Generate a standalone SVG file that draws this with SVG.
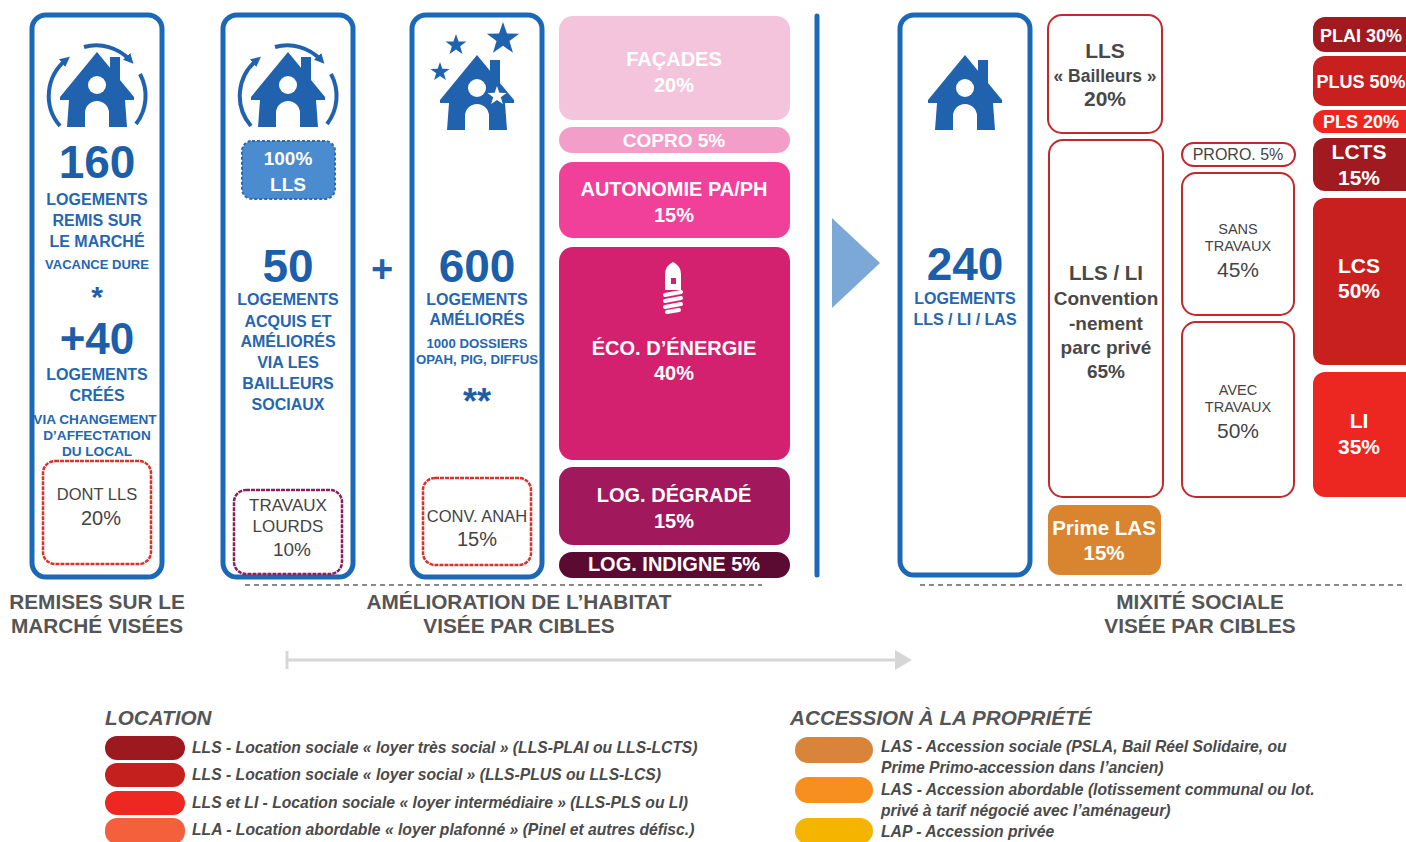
<svg xmlns="http://www.w3.org/2000/svg" width="1406" height="842" viewBox="0 0 1406 842">
<style>
text{font-family:"Liberation Sans",Arial,sans-serif;text-anchor:middle}
.bx{fill:#fff;stroke:#1b69b6;stroke-width:5}
.big{font-weight:bold;font-size:46px;fill:#1d5ea9}
.lb{font-weight:bold;font-size:16px;fill:#2466b0}
.sm{font-weight:bold;font-size:13.6px;fill:#2466b0}
.gr{font-size:16.5px;fill:#444}
.pc{font-size:20px;fill:#444}
.wt{font-weight:bold;font-size:20px;fill:#fff}
.rt{font-weight:bold;font-size:21px;fill:#fff}
.ro{fill:#fff;stroke:#c3282c;stroke-width:2}
.dk{font-weight:bold;fill:#484848}
.cap{font-weight:bold;font-size:20.8px;fill:#555}
.lg{font-weight:bold;font-style:italic;font-size:15.7px;fill:#4a4a4a;text-anchor:start}
.lt{font-weight:bold;font-style:italic;font-size:20.7px;fill:#555;text-anchor:start}
.ic{fill:#2062ad}
</style>
<defs>
<marker id="ah" viewBox="0 0 10 10" refX="5" refY="5" markerWidth="10" markerHeight="10" markerUnits="userSpaceOnUse" orient="auto">
<path d="M0,0 L10,5 L0,10 Z" fill="#2062ad"/>
</marker>
<g id="house">
<path d="M0,0 L37,45 L37,48 L28,48 L30,75 L12,75 L12,61 A12,12 0 0 0 -12,61 L-12,75 L-30,75 L-28,48 L-37,48 L-37,45 Z"/>
<rect x="13" y="5" width="10" height="26"/>
<circle cx="0" cy="33" r="9" fill="#fff"/>
</g>
<g id="houseArrows">
<use href="#house" transform="translate(97,52)"/>
<g fill="none" stroke="#2062ad" stroke-width="4">
<path d="M60,126 A46,46 0 0 1 66,60" marker-end="url(#ah)"/>
<path d="M84,47 A46,46 0 0 1 130,60" marker-end="url(#ah)"/>
<path d="M140,74 A46,46 0 0 1 136,124"/>
</g>
</g>
<polygon id="star" points="0,-1 0.235,-0.324 0.951,-0.309 0.38,0.124 0.588,0.809 0,0.4 -0.588,0.809 -0.38,0.124 -0.951,-0.309 -0.235,-0.324"/>
</defs>

<rect width="1406" height="842" fill="#fff"/>

<g id="remises">
<rect class="bx" x="32" y="15" width="130" height="562" rx="14"/>
<g class="ic"><use href="#houseArrows"/></g>
<text class="big" x="97" y="178">160</text>
<text class="lb" x="97" y="205">LOGEMENTS</text>
<text class="lb" x="97" y="226">REMIS SUR</text>
<text class="lb" x="97" y="247">LE MARCHÉ</text>
<text class="sm" x="97" y="269" style="font-size:13px">VACANCE DURE</text>
<text class="big" x="97" y="307" style="font-size:30px">*</text>
<text class="big" x="97" y="354" style="font-size:44px">+40</text>
<text class="lb" x="97" y="380">LOGEMENTS</text>
<text class="lb" x="97" y="401">CRÉÉS</text>
<text class="sm" x="95" y="424">VIA CHANGEMENT</text>
<text class="sm" x="97" y="440">D’AFFECTATION</text>
<text class="sm" x="97" y="456">DU LOCAL</text>
<rect x="43" y="461" width="108" height="103" rx="12" fill="none" stroke="#d8332e" stroke-width="2.5" stroke-dasharray="4 1"/>
<text class="gr" x="97" y="500">DONT LLS</text>
<text class="pc" x="101" y="525">20%</text>
</g>

<g id="acquis">
<rect class="bx" x="223" y="15" width="130" height="562" rx="14"/>
<g class="ic" transform="translate(191,0)"><use href="#houseArrows"/></g>
<rect x="242" y="141" width="93" height="58" rx="10" fill="#4b8bcf" stroke="#2a6cb3" stroke-width="2" stroke-dasharray="3 2"/>
<text class="wt" x="288" y="165" style="font-size:19px">100%</text>
<text class="wt" x="288" y="191" style="font-size:19px">LLS</text>
<text class="big" x="288" y="282">50</text>
<text class="lb" x="288" y="305">LOGEMENTS</text>
<text class="lb" x="288" y="327">ACQUIS ET</text>
<text class="lb" x="288" y="347">AMÉLIORÉS</text>
<text class="lb" x="288" y="368">VIA LES</text>
<text class="lb" x="288" y="389">BAILLEURS</text>
<text class="lb" x="288" y="410">SOCIAUX</text>
<rect x="234" y="490" width="108" height="84" rx="12" fill="none" stroke="#8e1d5e" stroke-width="2.5" stroke-dasharray="4 1"/>
<text class="gr" x="288" y="511" style="font-size:17px">TRAVAUX</text>
<text class="gr" x="288" y="532" style="font-size:17px">LOURDS</text>
<text class="pc" x="292" y="556" style="font-size:19px">10%</text>
</g>

<g id="plus">
<text x="382" y="282" style="font-weight:bold;font-size:38px;fill:#2062ad">+</text>
</g>

<g id="ameliores">
<rect class="bx" x="412" y="15" width="130" height="562" rx="14"/>
<g class="ic">
<use href="#house" transform="translate(477,55)"/>
<use href="#star" transform="translate(503,39) scale(17)"/>
<use href="#star" transform="translate(456,45) scale(11)"/>
<use href="#star" transform="translate(440,72) scale(10)"/>
<use href="#star" transform="translate(497,96) scale(10)" fill="#fff"/>
</g>
<text class="big" x="477" y="282">600</text>
<text class="lb" x="477" y="305">LOGEMENTS</text>
<text class="lb" x="477" y="325">AMÉLIORÉS</text>
<text class="sm" x="477" y="348" style="font-size:13.2px">1000 DOSSIERS</text>
<text class="sm" x="477" y="364" style="font-size:13.2px">OPAH, PIG, DIFFUS</text>
<text class="big" x="477" y="414" style="font-size:36px">**</text>
<rect x="423" y="478" width="108" height="87" rx="12" fill="none" stroke="#d8332e" stroke-width="2.5" stroke-dasharray="4 1"/>
<text class="gr" x="477" y="522">CONV. ANAH</text>
<text class="pc" x="477" y="546">15%</text>
</g>

<g id="cibles-habitat">
<rect x="559" y="16" width="231" height="104" rx="14" fill="#f4c4dd"/>
<text class="wt" x="674" y="66">FAÇADES</text>
<text class="wt" x="674" y="92">20%</text>
<rect x="559" y="127" width="231" height="26" rx="13" fill="#f39ec9"/>
<text class="wt" x="674" y="147" style="font-size:19px">COPRO 5%</text>
<rect x="559" y="162" width="231" height="76" rx="14" fill="#f0409a"/>
<text class="wt" x="674" y="196">AUTONOMIE PA/PH</text>
<text class="wt" x="674" y="222">15%</text>
<rect x="559" y="247" width="231" height="213" rx="14" fill="#d3216f"/>
<g fill="#fff">
<path d="M665,290 L665,274 Q665,266 673,262 Q681,266 681,274 L681,290 Z"/>
<rect x="671" y="278" width="5" height="6" fill="#d3216f"/>
</g>
<g stroke="#fff" stroke-width="4" stroke-linecap="round">
<line x1="665" y1="295" x2="681" y2="292"/>
<line x1="665" y1="301" x2="681" y2="298"/>
<line x1="665" y1="307" x2="681" y2="304"/>
<line x1="667" y1="312" x2="679" y2="310"/>
</g>
<text class="wt" x="674" y="355">ÉCO. D’ÉNERGIE</text>
<text class="wt" x="674" y="380">40%</text>
<rect x="559" y="467" width="231" height="78" rx="14" fill="#a1195c"/>
<text class="wt" x="674" y="502">LOG. DÉGRADÉ</text>
<text class="wt" x="674" y="528">15%</text>
<rect x="559" y="552" width="231" height="26" rx="13" fill="#5b0b31"/>
<text class="wt" x="674" y="571">LOG. INDIGNE 5%</text>
</g>

<g id="separateur">
<line x1="817" y1="16" x2="817" y2="575" stroke="#1b69b6" stroke-width="5" stroke-linecap="round"/>
<polygon points="832,218 880,263 832,308" fill="#7ca8d8"/>
</g>

<g id="mixite">
<rect class="bx" x="900" y="15" width="130" height="560" rx="14"/>
<g class="ic"><use href="#house" transform="translate(965,55)"/></g>
<text class="big" x="965" y="280">240</text>
<text class="lb" x="965" y="304">LOGEMENTS</text>
<text class="lb" x="965" y="325">LLS / LI / LAS</text>
</g>

<g id="lls-bailleurs">
<rect class="ro" x="1048" y="15" width="114" height="118" rx="14"/>
<text class="dk" x="1105" y="58" style="font-size:21px">LLS</text>
<text class="dk" x="1105" y="82" style="font-size:17.5px">« Bailleurs »</text>
<text class="dk" x="1105" y="106" style="font-size:21px">20%</text>
</g>
<g id="lls-li">
<rect class="ro" x="1049" y="140" width="114" height="357" rx="14"/>
<text class="dk" x="1106" y="280" style="font-size:20.5px">LLS / LI</text>
<text class="dk" x="1106" y="305" style="font-size:19px">Convention</text>
<text class="dk" x="1106" y="330" style="font-size:19px">-nement</text>
<text class="dk" x="1106" y="354" style="font-size:19px">parc privé</text>
<text class="dk" x="1106" y="378" style="font-size:19px">65%</text>
</g>
<g id="prime-las">
<rect x="1048" y="505" width="113" height="70" rx="12" fill="#d9842e"/>
<text class="wt" x="1104" y="535" style="font-size:20.5px">Prime LAS</text>
<text class="wt" x="1104" y="560" style="font-size:20.5px">15%</text>
</g>
<g id="proro">
<rect class="ro" x="1182" y="143" width="113" height="23" rx="11.5"/>
<text x="1238" y="160" style="font-size:16px;fill:#444">PRORO. 5%</text>
</g>
<g id="sans-travaux">
<rect class="ro" x="1182" y="173" width="112" height="142" rx="14"/>
<text x="1238" y="234" style="font-size:14.5px;fill:#444">SANS</text>
<text x="1238" y="251" style="font-size:14.5px;fill:#444">TRAVAUX</text>
<text x="1238" y="277" style="font-size:21px;fill:#444">45%</text>
</g>
<g id="avec-travaux">
<rect class="ro" x="1182" y="322" width="112" height="175" rx="14"/>
<text x="1238" y="395" style="font-size:14.5px;fill:#444">AVEC</text>
<text x="1238" y="412" style="font-size:14.5px;fill:#444">TRAVAUX</text>
<text x="1238" y="438" style="font-size:21px;fill:#444">50%</text>
</g>

<g id="plai"><rect x="1313" y="17" width="110" height="35" rx="12" fill="#a11a1f"/><text class="rt" x="1361" y="42" style="font-size:18px">PLAI 30%</text></g>
<g id="plus50"><rect x="1313" y="56" width="110" height="50" rx="12" fill="#c8201f"/><text class="rt" x="1361" y="88" style="font-size:18px">PLUS 50%</text></g>
<g id="pls"><rect x="1313" y="110" width="110" height="23" rx="11.5" fill="#ec2620"/><text class="rt" x="1361" y="128" style="font-size:18px">PLS 20%</text></g>
<g id="lcts"><rect x="1313" y="138" width="110" height="53" rx="12" fill="#a11a1f"/><text class="rt" x="1359" y="159">LCTS</text><text class="rt" x="1359" y="185">15%</text></g>
<g id="lcs"><rect x="1313" y="198" width="110" height="167" rx="12" fill="#c8201f"/><text class="rt" x="1359" y="273">LCS</text><text class="rt" x="1359" y="298">50%</text></g>
<g id="li"><rect x="1313" y="372" width="110" height="125" rx="12" fill="#ec2620"/><text class="rt" x="1359" y="428">LI</text><text class="rt" x="1359" y="454">35%</text></g>

<g id="connectors">
<line x1="245" y1="585" x2="762" y2="585" stroke="#888" stroke-width="2" stroke-dasharray="5 4"/>
<line x1="920" y1="585" x2="1406" y2="585" stroke="#888" stroke-width="2" stroke-dasharray="5 4"/>
<line x1="287" y1="660" x2="897" y2="660" stroke="#d6d6d6" stroke-width="3"/>
<line x1="287" y1="651" x2="287" y2="669" stroke="#d6d6d6" stroke-width="3"/>
<polygon points="895,650 912,660 895,670" fill="#d6d6d6"/>
</g>

<g id="captions">
<text class="cap" x="97" y="609">REMISES SUR LE</text>
<text class="cap" x="97" y="633">MARCHÉ VISÉES</text>
<text class="cap" x="519" y="609">AMÉLIORATION DE L’HABITAT</text>
<text class="cap" x="519" y="633">VISÉE PAR CIBLES</text>
<text class="cap" x="1200" y="609">MIXITÉ SOCIALE</text>
<text class="cap" x="1200" y="633">VISÉE PAR CIBLES</text>
</g>

<g id="legende-location">
<text class="lt" x="105" y="725">LOCATION</text>
<rect x="105" y="736" width="80" height="24" rx="12" fill="#9c1a1f"/>
<text class="lg" x="192" y="753">LLS - Location sociale « loyer très social » (LLS-PLAI ou LLS-LCTS)</text>
<rect x="105" y="763" width="80" height="24" rx="12" fill="#c4201e"/>
<text class="lg" x="192" y="780">LLS - Location sociale « loyer social » (LLS-PLUS ou LLS-LCS)</text>
<rect x="105" y="791" width="80" height="24" rx="12" fill="#ee2723"/>
<text class="lg" x="192" y="808">LLS et LI - Location sociale « loyer intermédiaire » (LLS-PLS ou LI)</text>
<rect x="105" y="818" width="80" height="26" rx="12" fill="#f4603c"/>
<text class="lg" x="192" y="835">LLA - Location abordable « loyer plafonné » (Pinel et autres défisc.)</text>
</g>

<g id="legende-accession">
<text class="lt" x="790" y="725">ACCESSION À LA PROPRIÉTÉ</text>
<rect x="795" y="737" width="78" height="26" rx="13" fill="#d8843b"/>
<text class="lg" x="881" y="752">LAS - Accession sociale (PSLA, Bail Réel Solidaire, ou</text>
<text class="lg" x="881" y="773">Prime Primo-accession dans l’ancien)</text>
<rect x="795" y="777" width="78" height="26" rx="13" fill="#f78f1e"/>
<text class="lg" x="881" y="795">LAS - Accession abordable (lotissement communal ou lot.</text>
<text class="lg" x="881" y="816">privé à tarif négocié avec l’aménageur)</text>
<rect x="795" y="818" width="78" height="26" rx="13" fill="#f4b400"/>
<text class="lg" x="881" y="837">LAP - Accession privée</text>
</g>
</svg>
